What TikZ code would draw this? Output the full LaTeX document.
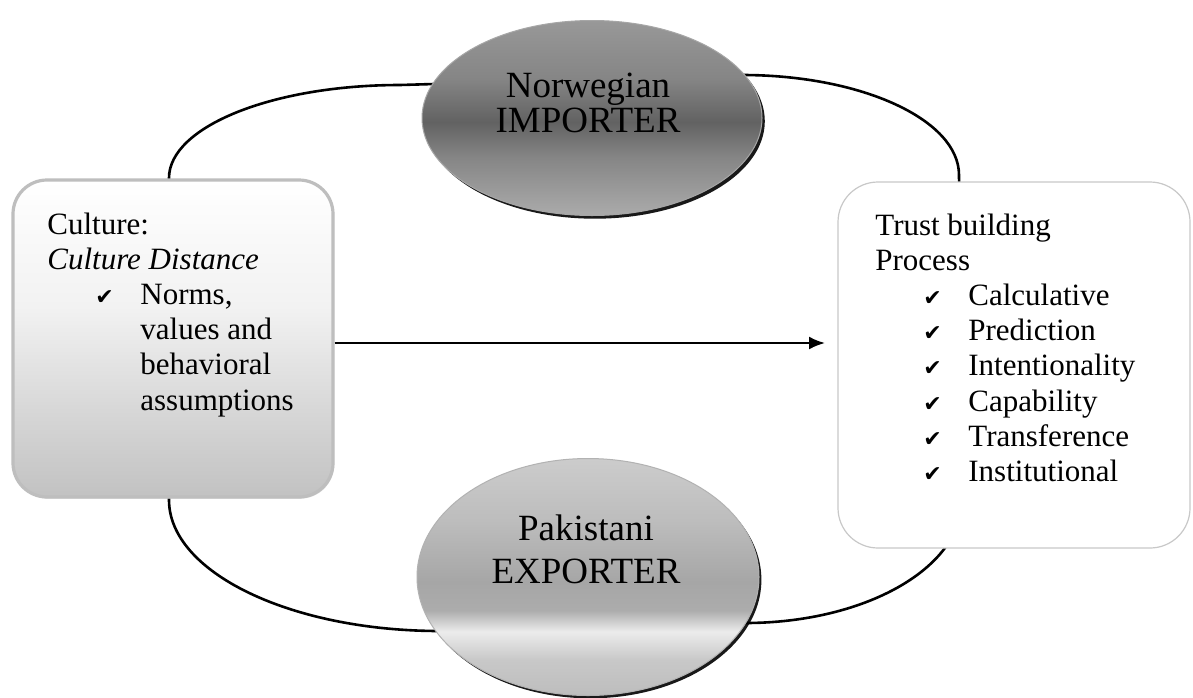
\documentclass[tikz,border=0pt]{standalone}
\usepackage{fontspec}
\setmainfont{Liberation Serif}
\newfontfamily\symfont{DejaVu Sans}
\usetikzlibrary{shapes.geometric,shadows,arrows.meta}

\definecolor{tA}{HTML}{989898}
\definecolor{tB}{HTML}{626262}
\definecolor{tC}{HTML}{858585}
\definecolor{tD}{HTML}{ABABAB}
\definecolor{bA}{HTML}{CCCCCC}
\definecolor{bB}{HTML}{BDBDBD}
\definecolor{bC}{HTML}{A6A6A6}
\definecolor{bD}{HTML}{ACACAC}
\definecolor{bE}{HTML}{ECECEC}
\definecolor{bF}{HTML}{C8C8C8}
\definecolor{bG}{HTML}{BDBDBD}
\definecolor{lA}{HTML}{FFFFFF}
\definecolor{lB}{HTML}{F2F2F2}
\definecolor{lC}{HTML}{D6D6D6}
\definecolor{lD}{HTML}{C2C2C2}
\definecolor{boxedge}{HTML}{BEBEBE}
\definecolor{rboxedge}{HTML}{C8C8C8}

\pgfdeclareverticalshading{topellshade}{100bp}{color(0bp)=(tD); color(25bp)=(tD); color(40bp)=(tC); color(49bp)=(tB); color(60bp)=(tC); color(75bp)=(tA); color(100bp)=(tA)}
\pgfdeclareverticalshading{botellshade}{100bp}{color(0bp)=(bG); color(25bp)=(bG); color(32.5bp)=(bF); color(38.5bp)=(bE); color(43bp)=(bD); color(49bp)=(bC); color(62bp)=(bB); color(75bp)=(bA); color(100bp)=(bA)}
\pgfdeclareverticalshading{lboxshade}{100bp}{color(0bp)=(lD); color(25bp)=(lD); color(38bp)=(lC); color(55bp)=(lB); color(75bp)=(lA); color(100bp)=(lA)}

\newcommand\ck{{\symfont\fontsize{11}{11}\selectfont ✔}}
\newcommand\ckitem[1]{\hspace*{24pt}\makebox[22.5pt][l]{\ck}#1}

\tikzset{
  loopline/.style={line width=1.3pt, black},
  lboxst/.style={rectangle, rounded corners=17pt, shading=lboxshade, draw=boxedge, line width=1.6pt,
    drop shadow={shadow xshift=0.6pt, shadow yshift=-0.8pt, fill=gray!40, opacity=0.7}},
  rboxst/.style={rectangle, rounded corners=20pt, fill=white, draw=rboxedge, line width=0.6pt},
  topel/.style={ellipse, shading=topellshade, draw=gray!70, line width=0.5pt,
    drop shadow={shadow xshift=1.4pt, shadow yshift=-1.6pt, fill=black, opacity=0.9}},
  botel/.style={ellipse, shading=botellshade, draw=gray!60, line width=0.5pt,
    drop shadow={shadow xshift=1.2pt, shadow yshift=-1.4pt, fill=black, opacity=0.9}},
  btext/.style={inner sep=0pt, font=\fontsize{15.5}{17.6}\selectfont, text=black},
  etextA/.style={inner sep=0pt, font=\fontsize{18.5}{17.5}\selectfont, text=black},
  etextB/.style={inner sep=0pt, font=\fontsize{18.5}{21.5}\selectfont, text=black},
  arr/.style={line width=1.1pt, -{Latex[length=8pt,width=6.5pt]}}
}

\begin{document}
\begin{tikzpicture}[x=0.5pt,y=-0.5pt]
\useasboundingbox (0,0) rectangle (1193,697);
\fill[white] (0,0) rectangle (1193,697);

% background loop
\draw[loopline] (169,340) -- (169,178) .. controls (169,127) and (272,85) .. (400,85)
  -- (742,75) .. controls (862,75) and (959,120) .. (959,175)
  -- (962,500) .. controls (962,568) and (865,623) .. (745,623)
  -- (440,631) .. controls (290,631) and (169,572) .. (169,500) -- cycle;

% boxes
\node[lboxst, minimum width=160pt, minimum height=158.5pt] (lbox) at (173,338.5) {};
\node[rboxst, minimum width=176pt, minimum height=183pt] (rbox) at (1014,365) {};

% ellipses
\node[topel, minimum width=170pt, minimum height=97.5pt] (imp) at (592,118) {};
\node[botel, minimum width=171pt, minimum height=118.5pt] (exp) at (588,577) {};

% ellipse texts
\node[etextA, anchor=base] (impt) at (588,97) {\begin{tabular}[t]{@{}c@{}}Norwegian\\IMPORTER\end{tabular}};
\node[etextB, anchor=base] (expt) at (586,540) {\begin{tabular}[t]{@{}c@{}}Pakistani\\EXPORTER\end{tabular}};

% box texts
\node[btext, anchor=base west] (ctext) at (47,234) {\begin{tabular}[t]{@{}l@{}}
Culture:\\
\textit{Culture Distance}\\
\ckitem{Norms,}\\
\hspace*{46.5pt}values and\\
\hspace*{46.5pt}behavioral\\
\hspace*{46.5pt}assumptions
\end{tabular}};

\node[btext, anchor=base west] (ttext) at (875,235) {\begin{tabular}[t]{@{}l@{}}
Trust building\\
Process\\
\ckitem{Calculative}\\
\ckitem{Prediction}\\
\ckitem{Intentionality}\\
\ckitem{Capability}\\
\ckitem{Transference}\\
\ckitem{Institutional}
\end{tabular}};

% arrow
\coordinate (aend) at (825,343);
\draw[arr] (lbox.east |- aend) -- (aend);
\end{tikzpicture}
\end{document}
